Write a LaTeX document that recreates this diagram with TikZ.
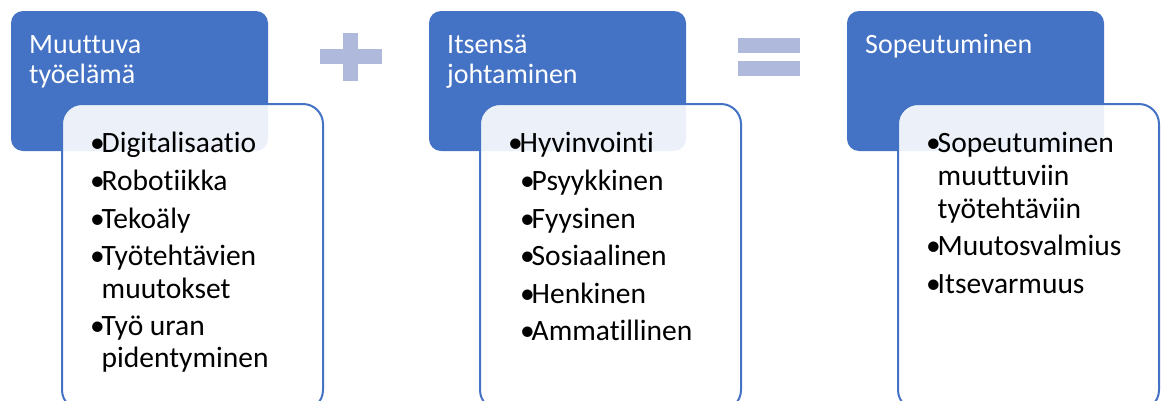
\documentclass[tikz,border=0pt]{standalone}
\usepackage{fontspec}
\setmainfont{Carlito}[Ligatures={NoCommon}]
\usetikzlibrary{positioning}
\definecolor{hdblue}{HTML}{4472C4}
\definecolor{signblue}{HTML}{AEB9DC}
\newcommand{\bl}{\makebox[11.5pt][l]{•}}

\begin{document}
\begin{tikzpicture}[x=1pt,y=-1pt,
  head/.style={fill=hdblue,rounded corners=12pt,minimum width=257pt,minimum height=140pt,inner sep=0pt,outer sep=0pt},
  body/.style={draw=hdblue,line width=2pt,fill=white,fill opacity=0.9,rounded corners=20pt,minimum width=261pt,minimum height=306pt,inner sep=0pt,outer sep=0pt},
  htext/.style={text=white,font=\fontsize{28}{30}\selectfont,anchor=base west,inner sep=0pt},
  item/.style={text=black,font=\fontsize{29.5}{33}\selectfont,anchor=base west,inner sep=0pt}]
\useasboundingbox (0,0) rectangle (1163,400);
% coloured heads
\node[head,anchor=north west] (h1) at (11,11) {};
\node[head,right=161pt of h1] (h2) {};
\node[head,right=161pt of h2] (h3) {};
\node[htext] (t1a) at (29,53) {Muuttuva};
\node[htext] (t1b) at (29,83) {työelämä};
\node[htext] (t2a) at (447,53) {Itsensä};
\node[htext] (t2b) at (447,83) {johtaminen};
\node[htext] (t3a) at (865,53) {Sopeutuminen};
% white lists over the heads
\node[body,below right=93pt and 51pt of h1.north west] (b1) {};
\node[body,below right=93pt and 51pt of h2.north west] (b2) {};
\node[body,below right=93pt and 51pt of h3.north west] (b3) {};
% plus and equals
\fill[signblue] (320,49) rectangle (382,64);
\fill[signblue] (343,33) rectangle (358,81);
\fill[signblue] (738,38) rectangle (800,53);
\fill[signblue] (738,61) rectangle (800,76);
% list texts
\foreach \x/\y/\t [count=\i] in {90/152/\bl Digitalisaatio, 90/190/\bl Robotiikka,
    90/228/\bl Tekoäly, 90/265/\bl Työtehtävien, 101.5/298/muutokset,
    90/335/\bl Työ uran, 101.5/367/pidentyminen}
  \node[item] (l1-\i) at (\x,\y) {\t};
\foreach \x/\y/\t [count=\i] in {508/152/\bl Hyvinvointi, 520/190/\bl Psyykkinen,
    520/228/\bl Fyysinen, 520/265/\bl Sosiaalinen, 520/303/\bl Henkinen,
    520/340/\bl Ammatillinen}
  \node[item] (l2-\i) at (\x,\y) {\t};
\foreach \x/\y/\t [count=\i] in {926/152/\bl Sopeutuminen, 937.5/185/muuttuviin,
    937.5/218/työtehtäviin, 926/255/\bl Muutosvalmius, 926/293/\bl Itsevarmuus}
  \node[item] (l3-\i) at (\x,\y) {\t};
\end{tikzpicture}
\end{document}
